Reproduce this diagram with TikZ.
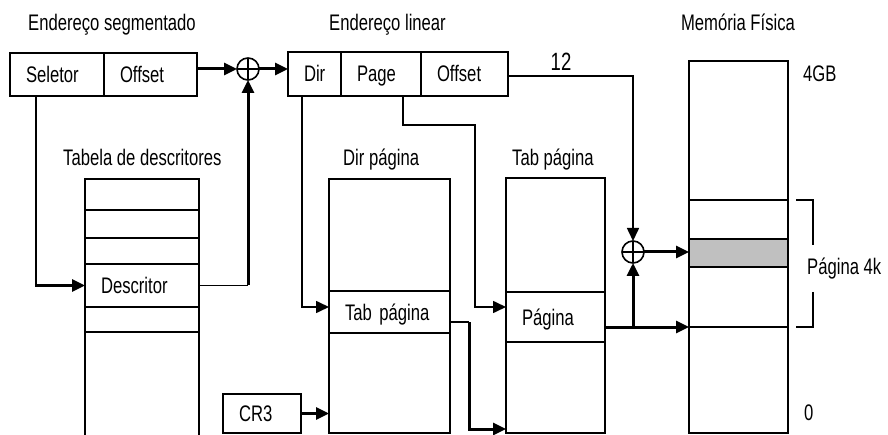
\documentclass[tikz,border=0pt]{standalone}
\usepackage{fontspec}
\setmainfont[FakeStretch=0.74]{Liberation Sans}
\usetikzlibrary{arrows.meta,calc}
\definecolor{band}{RGB}{192,192,192}
\begin{document}
\begin{tikzpicture}[x=1pt,y=-1pt,
  every node/.style={font=\fontsize{22.5}{27}\selectfont},
  thinln/.style={line width=1.6pt},
  thickln/.style={line width=3pt},
  arr/.style={-{Triangle[length=13pt,width=12pt]}},
  cell/.style={draw, line width=1.6pt, anchor=north west, outer sep=0pt, inner xsep=16pt, inner ysep=0pt, align=left, text height=16pt, text depth=0pt},
  lbl/.style={anchor=base west, inner sep=0pt},
  plus/.style={circle, draw, line width=1.6pt, minimum size=22pt, inner sep=0pt, outer sep=0pt,
    path picture={\draw[line width=1.6pt] (path picture bounding box.north) -- (path picture bounding box.south) (path picture bounding box.west) -- (path picture bounding box.east);}}
]
\useasboundingbox (0,0) rectangle (888,435);

% headers
\node[lbl] (h1) at (28,31) {Endereço segmentado};
\node[lbl] (h2) at (329,31) {Endereço linear};
\node[lbl, anchor=base] (h3) at (738,31) {Memória Física};
\node[lbl] (h4) at (63,166) {Tabela de descritores};
\node[lbl] (h5) at (343,166) {Dir página};
\node[lbl] (h6) at (512,166) {Tab página};

% segmented address
\node[cell, text width=62pt, minimum height=43pt] (sel) at (10,53) {Seletor};
\node[cell, text width=61pt, minimum height=43pt] (off1) at (104,53) {Offset};

% linear address
\node[cell, text width=21pt, minimum height=44pt] (dir) at (288,52) {Dir};
\node[cell, text width=48pt, minimum height=44pt] (page) at (341,52) {Page};
\node[cell, text width=55pt, minimum height=44pt] (off2) at (421,52) {Offset};

% descriptor table
\node[cell, minimum width=114pt, minimum height=31pt] (d1) at (85,179) {};
\node[cell, minimum width=114pt, minimum height=28pt] (d2) at (85,210) {};
\node[cell, minimum width=114pt, minimum height=26pt] (d3) at (85,238) {};
\node[cell, text width=82pt, minimum height=43pt] (desc) at (85,264) {Descritor};
\node[cell, minimum width=114pt, minimum height=25pt] (d5) at (85,307) {};
\draw[thinln] (d5.south west) -- (d5.south west |- 0,436);
\draw[thinln] (d5.south east) -- (d5.south east |- 0,436);

% directory
\node[cell, minimum width=121pt, minimum height=112pt] (dp1) at (329,179) {};
\node[cell, text width=89pt, minimum height=42pt] (tabrow) at (329,291) {Tab página};
\node[cell, minimum width=121pt, minimum height=100pt] (dp3) at (329,333) {};

% page table
\node[cell, minimum width=99pt, minimum height=114pt] (tp1) at (506,178) {};
\node[cell, text width=67pt, minimum height=50pt] (pag) at (506,292) {Página};
\node[cell, minimum width=99pt, minimum height=91pt] (tp3) at (506,342) {};

% physical memory
\node[cell, minimum width=99pt, minimum height=139pt] (m1) at (689,61) {};
\node[cell, minimum width=99pt, minimum height=39pt] (m2) at (689,200) {};
\node[cell, minimum width=99pt, minimum height=28pt, fill=band] (m3) at (689,239) {};
\node[cell, minimum width=99pt, minimum height=60pt] (m4) at (689,267) {};
\node[cell, minimum width=99pt, minimum height=106pt] (m5) at (689,327) {};

% CR3
\node[cell, text width=46pt, minimum height=39pt] (cr3) at (223,394) {CR3};

% adders
\node[plus] (p1) at (248,69) {};
\node[plus] (p2) at (633,252) {};

% labels
\node[lbl, anchor=base, font=\fontsize{25}{30}\selectfont] (n12) at (561,71) {12};
\node[lbl] (g4) at (803,82) {4GB};
\node[lbl] (g0) at (804,420) {0};
\node[lbl] (p4k) at (807,275) {Página 4k};

% connectors
\coordinate (sx) at ($(sel.south west)+(26,0)$);
\draw[thinln] (sx) -- (sx |- desc.west);
\draw[thickln,arr] ($(sx |- desc.west)+(-1,0)$) -- (desc.west);

\draw[thickln,arr] (off1.east |- p1) -- (p1.west);
\draw[thickln,arr] (p1.east) -- (dir.west |- p1);
\draw[thinln] (desc.east) -- (p1 |- desc.east);
\draw[thickln,arr] (p1 |- desc.east) -- (p1.south);

\coordinate (dx) at ($(dir.south west)+(14,0)$);
\coordinate (ty) at ($(tabrow.west)+(0,-5)$);
\draw[thinln,arr] (dx) |- (ty);

\coordinate (px) at ($(page.south west)+(62,0)$);
\coordinate (pk) at (475,125);
\coordinate (pg) at ($(pag.west)+(0,-10)$);
\draw[thinln,arr] (px) |- (pk) |- (pg);

\draw[thinln,arr] ($(off2.east)+(0,2)$) -| (p2.north);

\coordinate (tr) at ($(tabrow.east)+(0,10)$);
\coordinate (tk) at (469,0);
\coordinate (tb) at ($(tp3.south west)+(0,-4)$);
\draw[thinln] (tr) -- (tr -| tk);
\draw[thickln,arr] (tr -| tk) |- (tb);

\draw[thickln,arr] (pag.east |- m5.north west) -- (m5.north west);
\draw[thickln,arr] (p2 |- m5.north west) -- (p2.south);
\draw[thickln,arr] (p2.east) -- (m3.west |- p2);
\draw[thickln,arr] (cr3.east) -- (dp3.west |- cr3.east);

% bracket
\draw[thinln] (796,200) -- (813,200) -- (813,245);
\draw[thinln] (813,292) -- (813,327) -- (796,327);
\end{tikzpicture}
\end{document}
